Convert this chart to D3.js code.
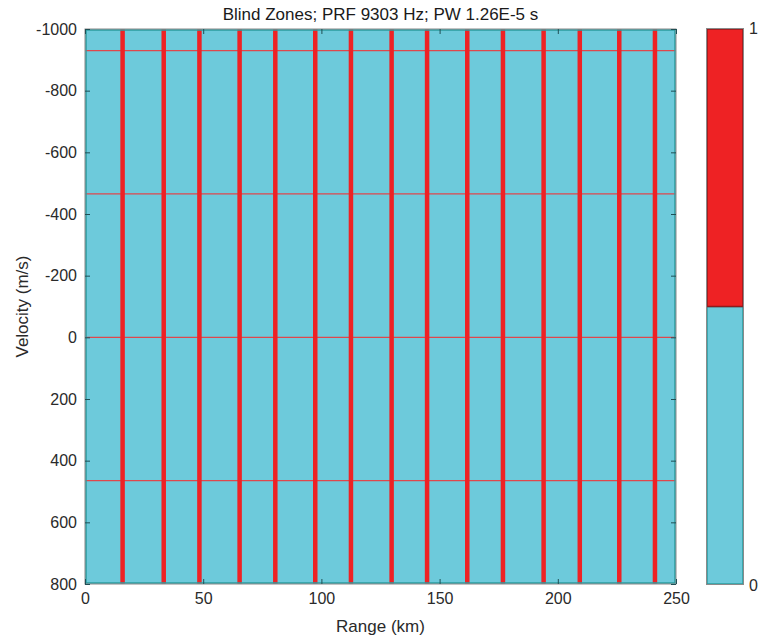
<!DOCTYPE html>
<html>
<head>
<meta charset="utf-8">
<script src="https://cdn.jsdelivr.net/npm/d3@7"></script>
<style>
  body { margin: 0; background: #fff; }
  text { font-family: "Liberation Sans", Arial, sans-serif; }
</style>
</head>
<body>
<div id="chart"></div>
<script>
// Blind range zones (km): centre of each eclipsed band, band width in km
const rangeCenters = [15.9, 33.3, 48.4, 65.4, 80.5, 97.4, 112.5, 129.7, 144.7, 161.7, 176.8, 194.0, 209.3, 226.0, 241.1];
const bandWidth = 1.9;
// Blind velocities (m/s)
const blindSpeeds = [-930, -465, 0, 465];
// Tick labels
const xTicks = [0, 50, 100, 150, 200, 250];
const yTicks = [-1000, -800, -600, -400, -200, 0, 200, 400, 600, 800];
// Colour bar segments
const cbSegments = [{ from: 0, to: 0.5, v: 0 }, { from: 0.5, to: 1, v: 1 }];

const cyan = '#6dcadb';
const red = '#ee2224';
const color = d3.scaleOrdinal().domain([0, 1]).range([cyan, red]);

const svg = d3.select('#chart')
    .append('svg')
    .attr('width', 758)
    .attr('height', 642);

const x = d3.scaleLinear().domain([0, 250]).range([85, 676]);
const y = d3.scaleLinear().domain([-1000, 800]).range([29, 584]);

// background field
svg.append('rect')
    .attr('x', x(0)).attr('y', y(-1000))
    .attr('width', x(250) - x(0)).attr('height', y(800) - y(-1000))
    .attr('fill', cyan);

// horizontal blind speed lines
svg.selectAll('.hl')
    .data(blindSpeeds)
    .enter().append('line')
    .attr('x1', x(0)).attr('x2', x(250))
    .attr('y1', d => y(d)).attr('y2', d => y(d))
    .attr('stroke', '#e0474c')
    .attr('stroke-width', 1.3);

// vertical blind range bands
svg.selectAll('.band')
    .data(rangeCenters)
    .enter().append('rect')
    .attr('x', d => x(d - bandWidth / 2))
    .attr('y', y(-1000))
    .attr('width', d => x(d + bandWidth / 2) - x(d - bandWidth / 2))
    .attr('height', y(800) - y(-1000))
    .attr('fill', red);

// frame: teal inner edge + gray outer
svg.append('rect')
    .attr('x', x(0) + 1).attr('y', y(-1000) + 1)
    .attr('width', x(250) - x(0) - 2).attr('height', y(800) - y(-1000) - 2)
    .attr('fill', 'none').attr('stroke', '#2b9c9f').attr('stroke-width', 1.5);
svg.append('rect')
    .attr('x', x(0)).attr('y', y(-1000))
    .attr('width', x(250) - x(0)).attr('height', y(800) - y(-1000))
    .attr('fill', 'none').attr('stroke', '#8a8a8a').attr('stroke-width', 1);

// axes with inward ticks
const axStyle = g => {
    g.select('.domain').remove();
    g.selectAll('.tick line').attr('stroke', '#1f4f55');
    g.selectAll('.tick text')
        .attr('fill', '#2a2a2a')
        .style('font-size', '16px')
        .style('font-family', '"Liberation Sans", Arial, sans-serif');
};
const plain = d => String(d);

svg.append('g')
    .attr('transform', `translate(0,${y(800)})`)
    .call(d3.axisBottom(x).tickValues(xTicks).tickFormat(plain).tickSizeInner(-5).tickSizeOuter(0).tickPadding(9))
    .call(axStyle);
svg.append('g')
    .attr('transform', `translate(0,${y(-1000)})`)
    .call(d3.axisTop(x).tickValues(xTicks).tickSizeInner(-5).tickSizeOuter(0).tickFormat(''))
    .call(axStyle);
svg.append('g')
    .attr('transform', `translate(${x(0)},0)`)
    .call(d3.axisLeft(y).tickValues(yTicks).tickFormat(plain).tickSizeInner(-5).tickSizeOuter(0).tickPadding(8))
    .call(axStyle);
svg.append('g')
    .attr('transform', `translate(${x(250)},0)`)
    .call(d3.axisRight(y).tickValues(yTicks).tickSizeInner(-5).tickSizeOuter(0).tickFormat(''))
    .call(axStyle);

// title and labels
svg.append('text')
    .attr('x', (x(0) + x(250)) / 2).attr('y', 20)
    .attr('text-anchor', 'middle')
    .style('font-size', '17px').attr('fill', '#1a1a1a')
    .text('Blind Zones; PRF 9303 Hz; PW 1.26E-5 s');

svg.append('text')
    .attr('x', (x(0) + x(250)) / 2).attr('y', 632)
    .attr('text-anchor', 'middle')
    .style('font-size', '17px').attr('fill', '#2a2a2a')
    .text('Range (km)');

svg.append('text')
    .attr('transform', `translate(28,${(y(-1000) + y(800)) / 2}) rotate(-90)`)
    .attr('text-anchor', 'middle')
    .style('font-size', '17px').attr('fill', '#2a2a2a')
    .text('Velocity (m/s)');

// colour bar
const cb = d3.scaleLinear().domain([0, 1]).range([584, 29]);
const cbx = 707, cbw = 36;

svg.selectAll('.cbseg')
    .data(cbSegments)
    .enter().append('rect')
    .attr('x', cbx).attr('y', d => cb(d.to))
    .attr('width', cbw).attr('height', d => cb(d.from) - cb(d.to))
    .attr('fill', d => color(d.v))
    .attr('stroke', d => d.v ? '#8c1b1d' : '#2b9c9f')
    .attr('stroke-width', 1.5);

svg.append('rect')
    .attr('x', cbx - 0.5).attr('y', cb(1) - 0.5)
    .attr('width', cbw + 1).attr('height', cb(0) - cb(1) + 1)
    .attr('fill', 'none').attr('stroke', '#8a8a8a').attr('stroke-width', 1);

svg.append('text')
    .attr('x', 749).attr('y', cb(1) + 5)
    .style('font-size', '16px').attr('fill', '#2a2a2a')
    .text('1');
svg.append('text')
    .attr('x', 749).attr('y', cb(0) + 7)
    .style('font-size', '16px').attr('fill', '#2a2a2a')
    .text('0');
</script>
</body>
</html>
